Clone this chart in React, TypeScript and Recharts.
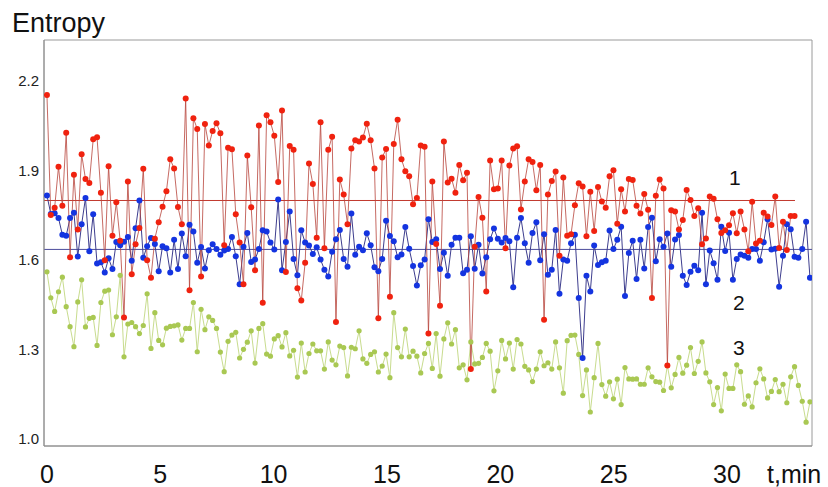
import React from "react";
import {
  LineChart,
  Line,
  XAxis,
  YAxis,
  ReferenceLine,
  ReferenceArea,
} from "recharts";

// curve 1 (red)
const curve1 = [
  2.154, 1.751, 1.776, 1.913, 1.782, 2.027, 1.61, 1.886, 1.703, 1.955, 1.872, 1.859, 2.005, 2.012, 1.826, 1.6, 1.915, 1.682, 1.794, 1.665, 1.408, 1.864, 1.553, 1.653, 1.708, 1.906, 1.6, 1.541, 1.672, 1.727, 1.779, 1.831, 1.938,
  1.907, 1.778, 1.72, 2.142, 1.499, 2.076, 2.04, 1.545, 2.056, 1.984, 2.033, 2.059, 2.025, 1.65, 1.977, 1.972, 1.754, 1.659, 1.519, 1.951, 1.777, 1.566, 2.051, 1.457, 2.086, 2.062, 2.017, 1.862, 2.102, 1.56, 1.983, 1.97, 1.506,
  1.465, 1.591, 1.924, 1.855, 1.675, 2.062, 1.64, 1.97, 2.014, 1.393, 1.87, 1.82, 1.72, 1.974, 2.002, 1.998, 2.011, 2.057, 2.002, 1.907, 1.405, 1.944, 1.973, 1.477, 1.989, 2.071, 1.938, 1.898, 1.881, 1.787, 1.808, 1.984, 1.98,
  1.354, 1.864, 1.654, 1.447, 1.998, 1.86, 1.873, 1.826, 1.919, 1.868, 1.893, 1.235, 1.645, 1.812, 1.742, 1.495, 1.934, 1.838, 1.84, 1.934, 1.64, 1.917, 1.974, 1.982, 1.77, 1.864, 1.938, 1.929, 1.834, 1.919, 1.4, 1.82, 1.865,
  1.897, 1.615, 1.877, 1.682, 1.687, 1.784, 1.858, 1.847, 1.68, 1.829, 1.698, 1.845, 1.797, 1.776, 1.881, 1.901, 1.722, 1.838, 1.763, 1.872, 1.869, 1.782, 1.756, 1.822, 1.769, 1.473, 1.816, 1.87, 1.84, 1.247, 1.767, 1.763, 1.703, 1.735,
  1.835, 1.802, 1.748, 1.774, 1.653, 1.673, 1.813, 1.806, 1.737, 1.691, 1.7, 1.717, 1.757, 1.69, 1.763, 1.703, 1.63, 1.796, 1.656, 1.665, 1.759, 1.746, 1.718, 1.813, 1.641, 1.729, 1.634, 1.748, 1.748,
];

// curve 2 (blue)
const curve2 = [
  1.817, 1.755, 1.757, 1.741, 1.685, 1.682, 1.741, 1.759, 1.612, 1.72, 1.808, 1.63, 1.754, 1.589, 1.593, 1.559, 1.606, 1.57, 1.661, 1.65, 1.662, 1.678, 1.598, 1.707, 1.8, 1.608, 1.647, 1.674, 1.654, 1.563, 1.647, 1.64, 1.559,
  1.668, 1.57, 1.689, 1.613, 1.719, 1.696, 1.591, 1.644, 1.572, 1.633, 1.653, 1.637, 1.618, 1.632, 1.637, 1.678, 1.613, 1.519, 1.645, 1.691, 1.594, 1.602, 1.637, 1.7, 1.696, 1.659, 1.636, 1.803, 1.566, 1.661, 1.763, 1.604, 1.549,
  1.7, 1.659, 1.649, 1.621, 1.643, 1.602, 1.568, 1.545, 1.628, 1.67, 1.701, 1.604, 1.578, 1.756, 1.618, 1.645, 1.633, 1.69, 1.65, 1.576, 1.563, 1.604, 1.732, 1.681, 1.663, 1.61, 1.619, 1.711, 1.638, 1.58, 1.515, 1.583, 1.602,
  1.737, 1.661, 1.67, 1.57, 1.625, 1.548, 1.652, 1.675, 1.675, 1.556, 1.568, 1.68, 1.571, 1.652, 1.555, 1.61, 1.67, 1.706, 1.672, 1.659, 1.674, 1.663, 1.509, 1.675, 1.741, 1.657, 1.591, 1.691, 1.727, 1.6, 1.687, 1.551, 1.568,
  1.701, 1.487, 1.602, 1.598, 1.657, 1.685, 1.473, 1.272, 1.548, 1.495, 1.649, 1.584, 1.593, 1.598, 1.699, 1.637, 1.668, 1.712, 1.48, 1.624, 1.665, 1.537, 1.668, 1.572, 1.711, 1.742, 1.596, 1.67, 1.645, 1.689, 1.578, 1.669, 1.684, 1.548,
  1.517, 1.561, 1.581, 1.566, 1.759, 1.519, 1.632, 1.59, 1.534, 1.712, 1.631, 1.692, 1.534, 1.604, 1.619, 1.615, 1.608, 1.637, 1.637, 1.598, 1.66, 1.737, 1.636, 1.638, 1.511, 1.615, 1.72, 1.704, 1.611, 1.608, 1.637, 1.729, 1.541,
];

// curve 3 (green)
const curve3 = [
  1.561, 1.474, 1.428, 1.494, 1.543, 1.444, 1.377, 1.31, 1.46, 1.534, 1.376, 1.405, 1.408, 1.314, 1.458, 1.496, 1.5, 1.35, 1.41, 1.549, 1.276, 1.386, 1.391, 1.377, 1.354, 1.381, 1.487, 1.304, 1.424, 1.331, 1.316, 1.372, 1.378,
  1.38, 1.383, 1.332, 1.371, 1.371, 1.458, 1.293, 1.435, 1.367, 1.41, 1.398, 1.371, 1.292, 1.226, 1.328, 1.349, 1.358, 1.272, 1.301, 1.325, 1.363, 1.255, 1.371, 1.387, 1.285, 1.278, 1.336, 1.347, 1.309, 1.357, 1.279, 1.298, 1.208,
  1.322, 1.225, 1.287, 1.319, 1.296, 1.296, 1.235, 1.326, 1.265, 1.249, 1.312, 1.307, 1.212, 1.308, 1.303, 1.363, 1.269, 1.254, 1.284, 1.293, 1.225, 1.245, 1.285, 1.206, 1.424, 1.307, 1.276, 1.369, 1.276, 1.295, 1.278, 1.222, 1.287,
  1.321, 1.237, 1.354, 1.211, 1.336, 1.39, 1.319, 1.367, 1.239, 1.249, 1.199, 1.326, 1.252, 1.254, 1.274, 1.321, 1.295, 1.162, 1.229, 1.331, 1.269, 1.322, 1.235, 1.334, 1.319, 1.244, 1.232, 1.193, 1.235, 1.293, 1.246, 1.256, 1.235,
  1.326, 1.239, 1.154, 1.33, 1.348, 1.349, 1.284, 1.146, 1.232, 1.091, 1.206, 1.321, 1.183, 1.144, 1.192, 1.135, 1.201, 1.116, 1.24, 1.202, 1.201, 1.202, 1.184, 1.184, 1.239, 1.209, 1.193, 1.191, 1.163, 1.247, 1.172, 1.217, 1.274, 1.221,
  1.248, 1.307, 1.22, 1.261, 1.326, 1.222, 1.192, 1.116, 1.173, 1.095, 1.218, 1.17, 1.17, 1.249, 1.226, 1.117, 1.145, 1.108, 1.189, 1.236, 1.202, 1.138, 1.16, 1.2, 1.159, 1.184, 1.122, 1.209, 1.243, 1.18, 1.127, 1.057, 1.125,
];

const xTicks = [0, 5, 10, 15, 20, 25, 30];
const yTicks = [1.0, 1.3, 1.6, 1.9, 2.2];

const MEAN1 = 1.8;
const MEAN2 = 1.636;
const MEAN1_END = 33.0;

const T_STEP = 0.17; // sampling step, min
const X_DOMAIN: [number, number] = [-0.13, 33.75];
const Y_DOMAIN: [number, number] = [0.977, 2.338];

const data = curve2.map((v, i) => ({
  t: i * T_STEP,
  c1: curve1[i],
  c2: v,
  c3: curve3[i],
}));

const FONT = "Arial, 'Liberation Sans', Helvetica, sans-serif";

export default function App() {
  return (
    <div style={{ position: "relative", width: 828, height: 487, background: "#fff" }}>
      <style>{`body{margin:0}`}</style>
      <LineChart
        width={828}
        height={487}
        data={data}
        margin={{ top: 40, right: 16, bottom: 0, left: 0 }}
      >
        <XAxis
          dataKey="t"
          type="number"
          domain={X_DOMAIN}
          ticks={xTicks}
          allowDataOverflow
          height={41}
          tickLine={false}
          tickSize={0}
          tickMargin={19}
          axisLine={{ stroke: "#8c8c8c" }}
          tick={{ fontSize: 25, fill: "#111", fontFamily: FONT }}
        />
        <YAxis
          type="number"
          domain={Y_DOMAIN}
          ticks={yTicks}
          allowDataOverflow
          width={44}
          tickLine={false}
          tickSize={0}
          tickMargin={5}
          axisLine={{ stroke: "#8c8c8c" }}
          tickFormatter={(v: number) => v.toFixed(1)}
          tick={{ fontSize: 15, fill: "#222", fontFamily: FONT }}
        />
        <ReferenceArea
          x1={X_DOMAIN[0]}
          x2={X_DOMAIN[1]}
          y1={Y_DOMAIN[0]}
          y2={Y_DOMAIN[1]}
          fill="none"
          stroke="#9a9a9a"
          strokeWidth={1}
        />
        <ReferenceLine y={MEAN2} stroke="#4b4b9c" strokeWidth={1} />
        <ReferenceLine
          segment={[
            { x: X_DOMAIN[0], y: MEAN1 },
            { x: MEAN1_END, y: MEAN1 },
          ]}
          stroke="#c2392e"
          strokeWidth={1}
        />
        <Line
          dataKey="c3"
          stroke="#c8dc8e"
          strokeWidth={1}
          dot={{ r: 2.6, fill: "#a9c853", stroke: "none" }}
          isAnimationActive={false}
        />
        <Line
          dataKey="c2"
          stroke="#3d3d8e"
          strokeWidth={1}
          dot={{ r: 3, fill: "#1434e0", stroke: "none" }}
          isAnimationActive={false}
        />
        <Line
          dataKey="c1"
          stroke="#b8453c"
          strokeOpacity={0.8}
          strokeWidth={1}
          dot={{ r: 3, fill: "#f0220f", stroke: "none" }}
          isAnimationActive={false}
        />
      </LineChart>
      <svg
        width={828}
        height={487}
        style={{ position: "absolute", left: 0, top: 0, pointerEvents: "none" }}
      >
        <text x={12} y={32} fontSize={27} fill="#111" fontFamily={FONT}>
          Entropy
        </text>
        <text x={729} y={185} fontSize={21} fill="#111" fontFamily={FONT}>
          1
        </text>
        <text x={733} y={310} fontSize={21} fill="#111" fontFamily={FONT}>
          2
        </text>
        <text x={733} y={355} fontSize={21} fill="#111" fontFamily={FONT}>
          3
        </text>
        <text x={767} y={483} fontSize={25} fill="#111" fontFamily={FONT}>
          t,min
        </text>
      </svg>
    </div>
  );
}
